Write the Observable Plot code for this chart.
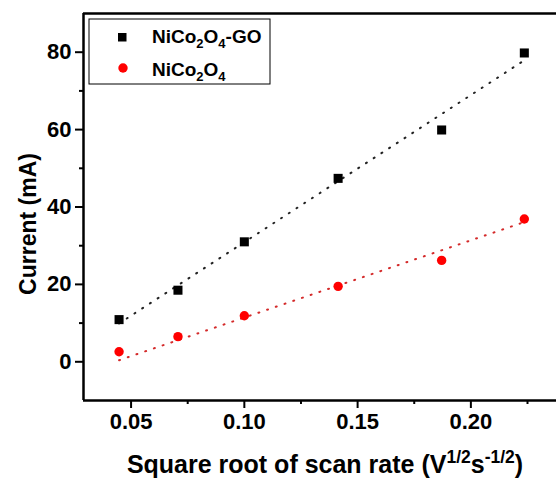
<!DOCTYPE html>
<html><head><meta charset="utf-8">
<script src="https://cdn.jsdelivr.net/npm/d3@7"></script>
<script src="https://cdn.jsdelivr.net/npm/@observablehq/plot@0.6"></script>
<style>body{margin:0;background:#fff}</style>
</head><body><div id="chart"></div>
<script>
// Data
const scanRateSqrt = [0.0447, 0.0707, 0.1, 0.1414, 0.1871, 0.2236];
const currentGO    = [10.9, 18.5, 31.0, 47.4, 59.9, 79.8];
const currentNi    = [2.6, 6.5, 11.9, 19.5, 26.2, 36.9];
// linear fit end points (as drawn)
const fitX  = [0.0447, 0.2236];
const fitGO = [9.9, 77.9];
const fitNi = [0.4, 36.1];
// tick values
const xMajor = [0.05, 0.10, 0.15, 0.20];
const xMinor = [0.075, 0.125, 0.175, 0.225];
const yMajor = [0, 20, 40, 60, 80];
const yMinor = [10, 30, 50, 70];
const seriesNames = ["NiCo2O4-GO", "NiCo2O4"];

const xDomain = [0.029, 0.2378];
const yDomain = [-10, 90];

const goData = scanRateSqrt.map((x, i) => ({x, y: currentGO[i]}));
const niData = scanRateSqrt.map((x, i) => ({x, y: currentNi[i]}));
const goFit = fitX.map((x, i) => ({x, y: fitGO[i]}));
const niFit = fitX.map((x, i) => ({x, y: fitNi[i]}));

const font = "'Liberation Sans', Arial, sans-serif";

const chart = Plot.plot({
  width: 556, height: 481,
  marginLeft: 83, marginRight: 0, marginTop: 13, marginBottom: 81,
  style: {fontFamily: font, fontWeight: "bold", background: "#fff", color: "#000"},
  x: {domain: xDomain, label: null},
  y: {domain: yDomain, label: null},
  marks: [
    Plot.axisX({ticks: xMajor, tickSize: 8, tickPadding: 5, strokeWidth: 2, fontSize: 22, fontWeight: "bold", tickFormat: d3.format(".2f"), label: null}),
    Plot.axisX({ticks: xMinor, tickSize: 4, strokeWidth: 2, tickFormat: () => "", label: null}),
    Plot.axisY({ticks: yMajor, tickSize: 8, tickPadding: 4, strokeWidth: 2, fontSize: 22, fontWeight: "bold", label: null}),
    Plot.axisY({ticks: yMinor, tickSize: 4, strokeWidth: 2, tickFormat: () => "", label: null}),
    Plot.ruleX([xDomain[0]], {strokeWidth: 2.5, stroke: "#000"}),
    Plot.ruleY([yDomain[0], yDomain[1]], {strokeWidth: 2.5, stroke: "#000"}),
    Plot.line(goFit, {x: "x", y: "y", stroke: "#222", strokeWidth: 2, strokeLinecap: "round", strokeDasharray: "1,8.2"}),
    Plot.line(niFit, {x: "x", y: "y", stroke: "#d42a2a", strokeWidth: 2, strokeLinecap: "round", strokeDasharray: "1,8.2"}),
    Plot.dot(goData, {x: "x", y: "y", symbol: "square", r: 5.1, fill: "#000"}),
    Plot.dot(niData, {x: "x", y: "y", symbol: "circle", r: 4.7, fill: "#f00"})
  ]
});
document.getElementById("chart").appendChild(chart);

const svg = d3.select(chart);
// axis titles
const xt = svg.append("text").attr("x", 325).attr("y", 473).attr("text-anchor", "middle")
  .style("font-family", font).style("font-weight", "bold").style("font-size", "25px");
xt.append("tspan").text("Square root of scan rate (V");
xt.append("tspan").attr("dy", -10).style("font-size", "17.5px").text("1/2");
xt.append("tspan").attr("dy", 10).text("s");
xt.append("tspan").attr("dy", -10).style("font-size", "17.5px").text("-1/2");
xt.append("tspan").attr("dy", 10).text(")");

svg.append("text").attr("transform", "translate(36,224) rotate(-90)").attr("text-anchor", "middle")
  .style("font-family", font).style("font-weight", "bold").style("font-size", "23px")
  .text("Current (mA)");

// legend
const lg = svg.append("g").attr("text-anchor", "start")
  .style("font-family", font).style("font-weight", "bold").style("font-size", "19px");
lg.append("rect").attr("x", 89).attr("y", 19).attr("width", 181).attr("height", 65)
  .attr("fill", "#fff").attr("stroke", "#000").attr("stroke-width", 1);
lg.append("rect").attr("x", 118).attr("y", 33).attr("width", 8.5).attr("height", 8.5).attr("fill", "#000");
lg.append("circle").attr("cx", 123).attr("cy", 68).attr("r", 4.7).attr("fill", "#f00");
function chem(y, suffix) {
  const t = lg.append("text").attr("x", 152).attr("y", y).attr("text-anchor", "start");
  t.append("tspan").text("NiCo");
  t.append("tspan").attr("dy", 5).style("font-size", "13px").text("2");
  t.append("tspan").attr("dy", -5).text("O");
  t.append("tspan").attr("dy", 5).style("font-size", "13px").text("4");
  if (suffix) t.append("tspan").attr("dy", -5).text(suffix);
}
chem(43, "-GO");
chem(76, "");
</script></body></html>
